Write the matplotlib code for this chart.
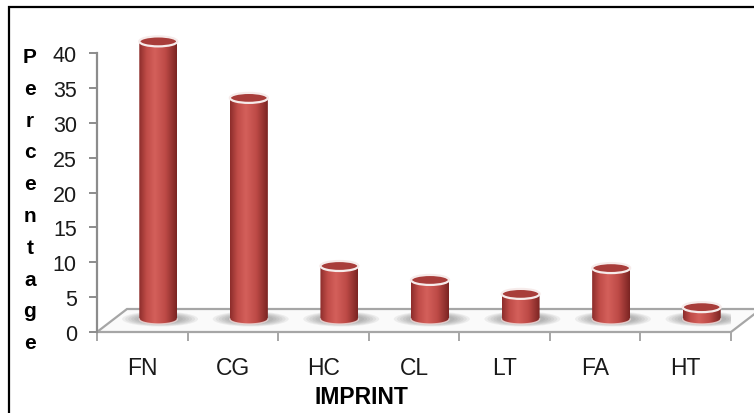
import numpy as np
import matplotlib
matplotlib.use("Agg")
import matplotlib.pyplot as plt
from matplotlib.patches import Ellipse, PathPatch, Polygon, Rectangle
from matplotlib.path import Path
from matplotlib.colors import LinearSegmentedColormap
from matplotlib.transforms import offset_copy


categories = ["FN", "CG", "HC", "CL", "LT", "FA", "HT"]
percentage = [39.8, 31.7, 7.6, 5.6, 3.6, 7.3, 1.7]
yticks = [0, 5, 10, 15, 20, 25, 30, 35, 40]
ylabel = "Percentage"
xlabel = "IMPRINT"

W, H = 754, 414
plt.rcParams["font.family"] = ["Liberation Sans", "DejaVu Sans"]

fig = plt.figure(figsize=(W / 100, H / 100), dpi=100)
ax = fig.add_axes([97 / W, (H - 333) / H, (731 - 97) / W, (333 - 54) / H])
ax.set_xlim(-0.5, len(categories) - 0.5)
ax.set_ylim(0, 40)

# pixels per data unit, used to size the cylinders and the floor depth
ppx = ax.bbox.width / len(categories)
ppy = ax.bbox.height / 40

# bars stand half way back on the floor
depth = offset_copy(ax.transData, fig=fig, x=16, y=13, units="dots")

# floor of the 3-D plot
fdx, fdy = 30 / ppx, 23 / ppy
x0, x1 = -0.5, len(categories) - 0.5
floor = Polygon([(x0, 0), (x1, 0), (x1 + fdx, fdy), (x0 + fdx, fdy)],
                closed=True, fc="#fafafa", ec="#a6a6a6", lw=1.6,
                clip_on=False, zorder=1)
ax.add_patch(floor)

body_cmap = LinearSegmentedColormap.from_list(
    "cyl", [(0.0, "#8c2d2b"), (0.2, "#c04c48"), (0.42, "#d4605b"),
            (0.7, "#bd4a46"), (1.0, "#7a2422")])
grad = np.linspace(0, 1, 256)[None, :]

w = 38 / ppx
ry = 5 / ppy
t = np.linspace(np.pi, 2 * np.pi, 60)

for i, v in enumerate(percentage):
    # soft shadow on the floor
    for k in range(6):
        sh = Ellipse((i + 0.02, 0), w * (2.0 - 0.16 * k), ry * (3.0 - 0.25 * k),
                     transform=depth, fc="#404040", ec="none",
                     alpha=0.07, zorder=2)
        ax.add_patch(sh)

    # cylinder body: straight sides with a rounded bottom
    arc_x = i + w / 2 * np.cos(t)
    arc_y = ry * np.sin(t)
    verts = [(i - w / 2, v)] + list(zip(arc_x, arc_y)) + [(i + w / 2, v), (i - w / 2, v)]
    codes = [Path.MOVETO] + [Path.LINETO] * (len(verts) - 2) + [Path.CLOSEPOLY]
    clip = PathPatch(Path(verts, codes), transform=depth, fc="none", ec="none",
                     clip_on=False)
    ax.add_patch(clip)
    im = ax.imshow(grad, cmap=body_cmap, aspect="auto", interpolation="bilinear",
                   extent=(i - w / 2, i + w / 2, -ry, v), transform=depth,
                   zorder=3)
    im.set_clip_path(clip)
    im.set_clip_box(fig.bbox)
    ax.plot(arc_x, arc_y, color="#f0dcdb", lw=1.0, alpha=0.8,
            transform=depth, zorder=4, clip_on=False)

    # top cap
    cap = Ellipse((i, v), w, 2 * ry, transform=depth, fc="#a83d3a",
                  ec="#f6ebea", lw=1.6, zorder=5, clip_on=False)
    ax.add_patch(cap)

ax.set_xlim(-0.5, len(categories) - 0.5)
ax.set_ylim(0, 40)

for s in ["top", "right", "bottom"]:
    ax.spines[s].set_visible(False)
ax.spines["left"].set_color("#8c8c8c")
ax.spines["left"].set_linewidth(1.6)

ax.set_yticks(yticks)
ax.set_yticklabels([str(y) for y in yticks])
ax.tick_params(axis="y", length=5.5, width=1.4, color="#8c8c8c", pad=9,
               labelsize=15.5, labelcolor="#1a1a1a")

ax.set_xticks(np.arange(-0.5, len(categories), 1))
ax.set_xticklabels([])
ax.set_xticks(np.arange(len(categories)), minor=True)
ax.set_xticklabels(categories, minor=True)
ax.tick_params(axis="x", which="major", length=6.5, width=1.4, color="#a6a6a6")
ax.tick_params(axis="x", which="minor", length=0, pad=17, labelsize=16.5,
               labelcolor="#1a1a1a")

# axis titles
for j, ch in enumerate(ylabel):
    fig.text(30 / W, 1 - (63 + j * 31.8) / H, ch, ha="center", va="baseline",
             fontsize=15, fontweight="bold", color="black")
fig.text(361 / W, 1 - 397.5 / H, xlabel, ha="center", va="center",
         fontsize=16.5, fontweight="bold", color="black")

# frame along the top and left edge
fig.patches.append(Rectangle((9 / W, -0.1), 1.2, 1 - 8 / H + 0.1,
                             transform=fig.transFigure, fill=False,
                             ec="black", lw=1.6))

fig.savefig("out.png", dpi=100)
